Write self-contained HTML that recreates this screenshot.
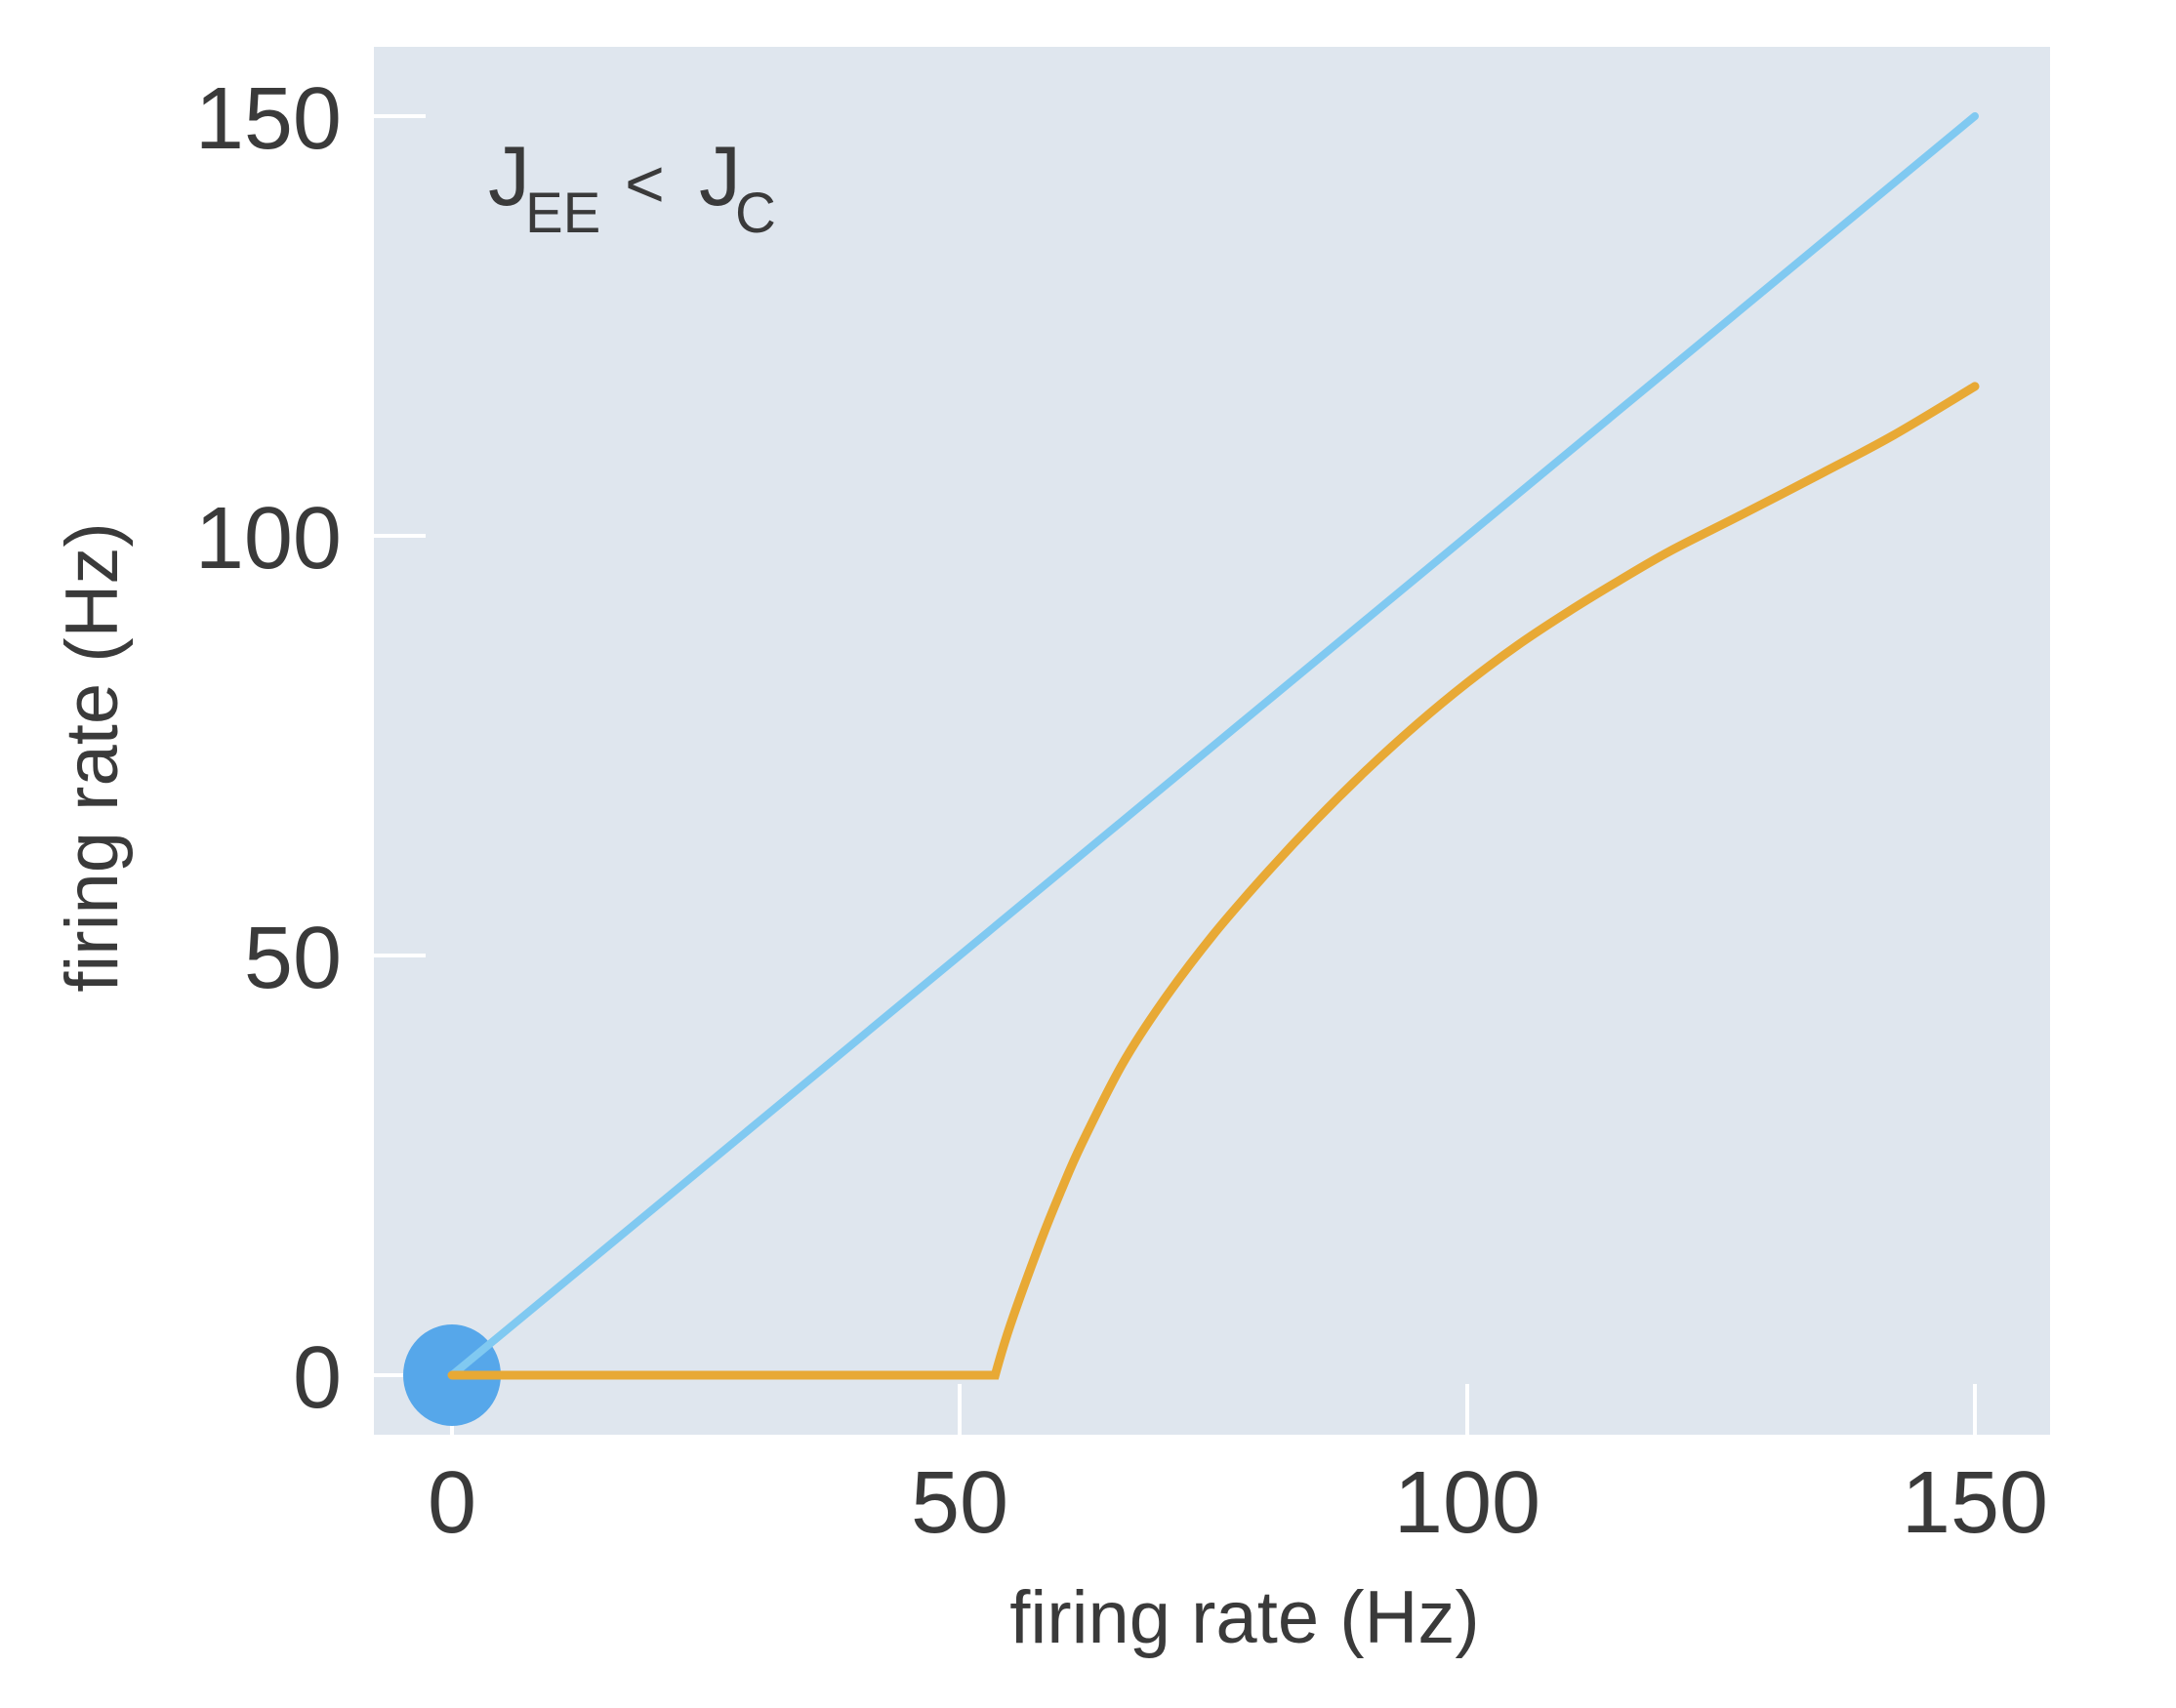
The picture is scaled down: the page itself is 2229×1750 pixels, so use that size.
<!DOCTYPE html>
<html><head><meta charset="utf-8"><style>
html,body{margin:0;padding:0;background:#fff;}
svg{display:block;}
text{font-family:"Liberation Sans",sans-serif;fill:#3a3a3a;}
</style></head><body>
<svg id="chart" width="2229" height="1750" viewBox="0 0 2229 1750" xmlns="http://www.w3.org/2000/svg">
<rect x="383" y="48" width="1717" height="1422" fill="#dfe6ee"/>
<g id="axes"></g>
<g id="marks"></g>
<text x="0" y="0" font-size="76" text-anchor="middle" transform="translate(120,776) rotate(-90)">firing rate (Hz)</text>
<text x="1275" y="1683" font-size="76" text-anchor="middle">firing rate (Hz)</text>
<g>
<text x="500" y="210" font-size="86">J</text>
<text x="538" y="238" font-size="58">EE</text>
<text x="640" y="212" font-size="70">&lt;</text>
<text x="716" y="210" font-size="86">J</text>
<text x="753" y="238" font-size="58">C</text>
</g>
</svg>
<script>
const xTicks=[0,50,100,150];
const yTicks=[0,50,100,150];
const identityX=[0,150];
const identityY=[0,150];
const gainX=[0,53.5,55,58,60,62,66,70,75,80,85,90,95,100,105,110,115,120,127,135,142,150];
const gainY=[0,0,6,16,22,27.5,37,44.5,52.5,59.5,66,72,77.5,82.5,87,91,94.7,98.2,102.5,107.5,112,117.8];
const fixedPointX=[0];
const fixedPointY=[0];

const NS="http://www.w3.org/2000/svg";
const sx=v=>463+v*10.4;
const sy=v=>1409-v*8.6;
const axes=document.getElementById('axes');
const marks=document.getElementById('marks');
function mk(tag,attrs,parent){const e=document.createElementNS(NS,tag);for(const k in attrs)e.setAttribute(k,attrs[k]);parent.appendChild(e);return e;}

xTicks.forEach(t=>{
  const l=mk('line',{x1:sx(t),x2:sx(t),y1:1470,y2:1418,stroke:'#ffffff','stroke-width':4},axes);
  
  
  const tx=mk('text',{x:sx(t),y:1570,'font-size':90,'text-anchor':'middle'},axes);
  tx.textContent=t;
  
  
});
yTicks.forEach(t=>{
  const l=mk('line',{x1:383,x2:436,y1:sy(t),y2:sy(t),stroke:'#ffffff','stroke-width':4},axes);
  
  
  const tx=mk('text',{x:350,y:sy(t)+33,'font-size':90,'text-anchor':'end'},axes);
  tx.textContent=t;
  
  
});

const fp=mk('ellipse',{cx:sx(fixedPointX[0]),cy:sy(fixedPointY[0]),rx:50,ry:52,fill:'#56a7ea'},marks);



const idPts=identityX.map((x,i)=>sx(x)+','+sy(identityY[i])).join(' ');
const idLine=mk('polyline',{points:idPts,fill:'none',stroke:'#80c9f1','stroke-width':8,'stroke-linecap':'round'},marks);



let d='M'+sx(gainX[0])+','+sy(gainY[0])+' L'+sx(gainX[1])+','+sy(gainY[1]);
const pts=gainX.slice(1).map((x,i)=>[sx(x),sy(gainY[i+1])]);
for(let i=0;i<pts.length-1;i++){
  const p0=pts[Math.max(0,i-1)],p1=pts[i],p2=pts[i+1],p3=pts[Math.min(pts.length-1,i+2)];
  const c1=(i===0)?p1:[p1[0]+(p2[0]-p0[0])/6,p1[1]+(p2[1]-p0[1])/6];
  const c2=[p2[0]-(p3[0]-p1[0])/6,p2[1]-(p3[1]-p1[1])/6];
  d+=' C'+c1[0]+','+c1[1]+' '+c2[0]+','+c2[1]+' '+p2[0]+','+p2[1];
}
const gain=mk('path',{d:d,fill:'none',stroke:'#e8a935','stroke-width':9,'stroke-linecap':'round','stroke-linejoin':'miter'},marks);


</script>
</body></html>
